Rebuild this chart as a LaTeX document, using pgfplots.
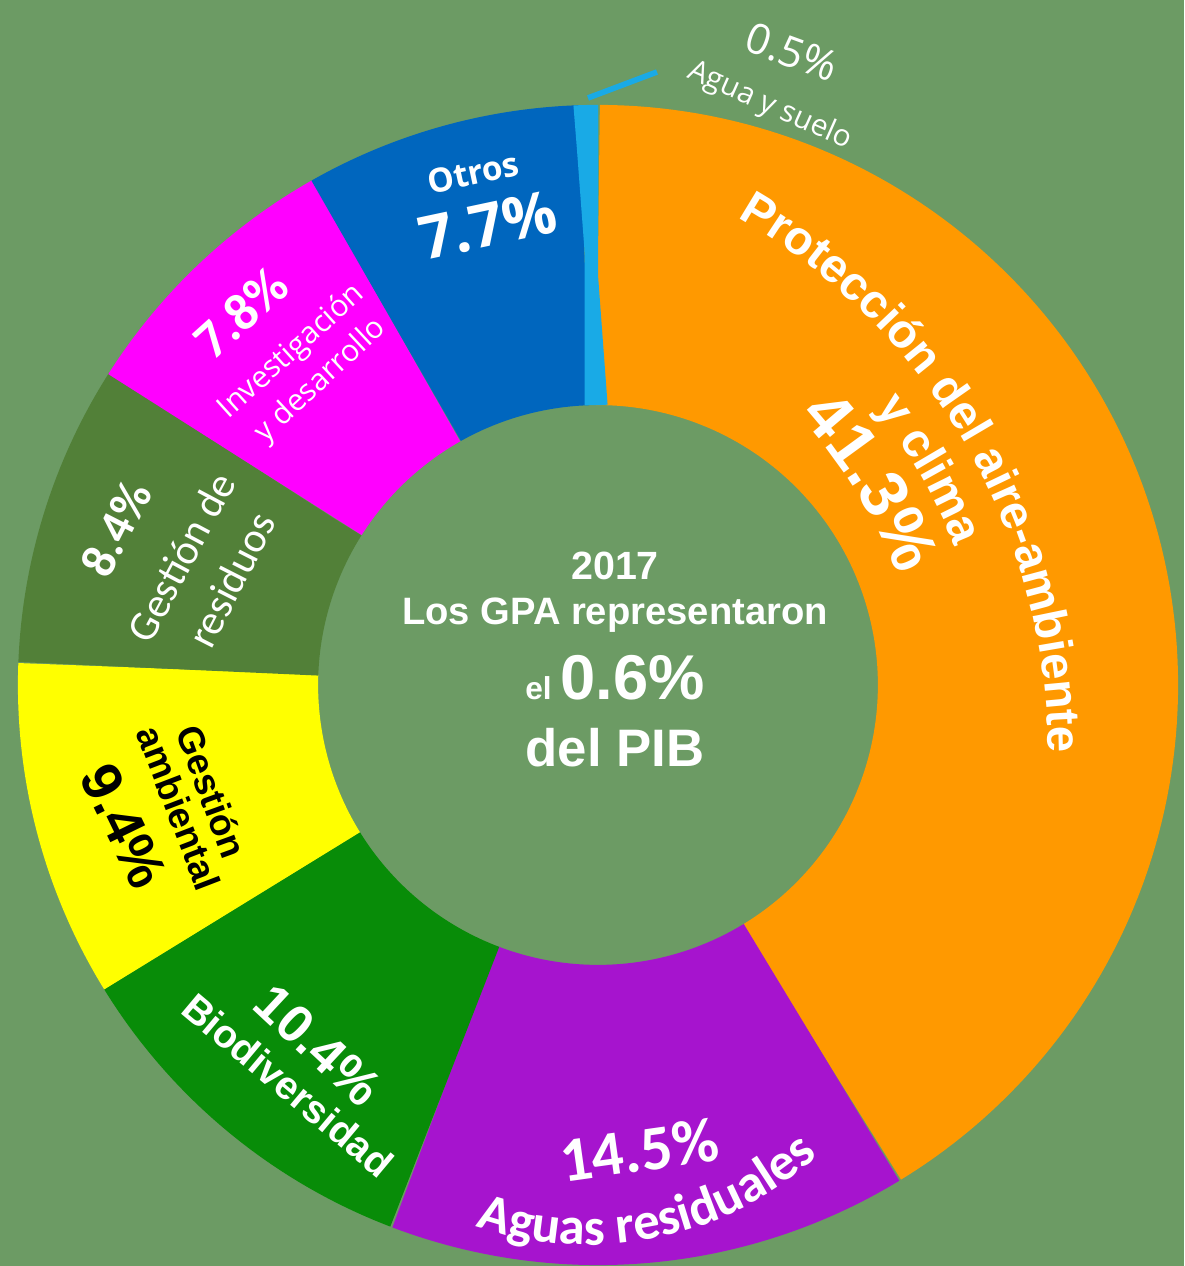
\documentclass[border=0pt]{standalone}
\usepackage{pgfplots}
\pgfplotsset{compat=1.18}
\usepackage{fontspec}
\setmainfont{Liberation Sans}
\newfontfamily\carlito{Carlito}
\newfontfamily\opensans{Open Sans}
\definecolor{bg}{RGB}{108,155,100}
\definecolor{cOrange}{RGB}{255,153,0}
\definecolor{cPurple}{RGB}{166,20,206}
\definecolor{cGreen}{RGB}{8,140,8}
\definecolor{cYellow}{RGB}{255,255,0}
\definecolor{cOlive}{RGB}{82,128,56}
\definecolor{cMagenta}{RGB}{255,0,255}
\definecolor{cBlue}{RGB}{0,102,190}
\definecolor{cLight}{RGB}{25,170,230}
\newcommand\fs[1]{\fontsize{#1}{#1}\selectfont}
\def\cum{0}
\newcommand\seg[2]{%
  \pgfmathsetmacro\segA{\cum*3.6}%
  \pgfmathsetmacro\segB{(\cum+#1)*3.6}%
  \edef\tmp{\noexpand\addplot[color=#2, line width=3cm, line cap=butt, line join=round, domain=\segA:\segB, samples=120] ({598+430*sin(x)},{581+430*cos(x)});}%
  \tmp
  \pgfmathsetmacro\cum{\cum+#1}%
}
% ---- text set letter by letter along an arc (1 axis unit = 0.01cm = 0.284528pt)
% positions are computed before the picture and stored in \ARall
\def\ARall{}
\makeatletter
\newcommand\ARchar[1]{%
  \setbox0=\hbox{\ARfont #1}%
  \pgfmathsetmacro\ARdang{(\the\wd0)/0.284528/\ARr*57.29578}%
  \pgfmathsetmacro\ARmid{\ARang+(\ARsgn)*\ARdang/2}%
  \pgfmathsetmacro\ARrot{\ARmid+(\ARsgn)*90}%
  \pgfmathsetmacro\ARx{\ARcx+\ARr*cos(\ARmid)}%
  \pgfmathsetmacro\ARy{\ARcy+\ARr*sin(\ARmid)}%
  \xdef\ARall{\unexpanded\expandafter{\ARall}\noexpand\node[anchor=base, rotate=\ARrot, inner sep=0pt, text=\ARcol, font=\unexpanded\expandafter{\ARfont}] at (axis cs:\ARx,\ARy) {\unexpanded{#1}};}%
  \pgfmathsetmacro\ARang{\ARang+(\ARsgn)*\ARdang}%
}
\newcommand\ARspace{%
  \setbox0=\hbox{\ARfont\space}%
  \pgfmathsetmacro\ARdang{(\the\wd0)/0.284528/\ARr*57.29578}%
  \pgfmathsetmacro\ARang{\ARang+(\ARsgn)*\ARdang}%
}
\newcommand\ARword[1]{\@tfor\ARc:=#1\do{\expandafter\ARchar\expandafter{\ARc}}}
\def\ARsplit#1 #2\ARend{\ARword{#1}\ifx\relax#2\relax\else\ARspace\ARsplit#2\ARend\fi}
% #1 cx, #2 cy, #3 baseline radius, #4 centre angle, #5 +1 ccw / -1 cw, #6 font, #7 colour, #8 text
\newcommand\arctext[8]{%
  \def\ARcx{#1}\def\ARcy{#2}\def\ARr{#3}\def\ARsgn{#5}\def\ARfont{#6}\def\ARcol{#7}%
  \setbox0=\hbox{#6#8}%
  \pgfmathsetmacro\ARtot{(\the\wd0)/0.284528/#3*57.29578}%
  \pgfmathsetmacro\ARang{#4-(#5)*\ARtot/2}%
  \ARsplit#8 \ARend}
\makeatother
\begin{document}%
\arctext{431}{513}{617}{30.15}{-1}{\bfseries\fs{13.5}}{white}{Protección del aire-ambiente}%
\arctext{431}{513}{563}{29.7}{-1}{\bfseries\fs{13.5}}{white}{y clima}%
\arctext{431}{513}{499}{31.6}{-1}{\bfseries\fs{19}}{white}{41.3\%}%
\arctext{588}{363}{342}{281.5}{1}{\carlito\bfseries\fs{15}}{white}{Aguas residuales}%
\begin{tikzpicture}
\begin{axis}[x=0.01cm, y=0.01cm, xmin=0, xmax=1184, ymin=0, ymax=1266,
  scale only axis, hide axis, clip=false]
\fill[bg] (axis cs:0,0) rectangle (axis cs:1184,1266);
% shares of GPA, % (clockwise from top)
\seg{41.3}{cOrange}
\seg{14.5}{cPurple}
\seg{10.4}{cGreen}
\seg{9.4}{cYellow}
\seg{8.4}{cOlive}
\seg{7.8}{cMagenta}
\seg{7.7}{cBlue}
\seg{0.5}{cLight}
% leader line for 0.5%
\addplot[color=cLight, line width=1.6pt] coordinates {(588,1168) (657,1194)};
% curved labels (orange, purple)
\ARall
% purple
\node[rotate=8, text=white, inner sep=0pt, font=\carlito\bfseries\fs{18}] at (axis cs:639,116) {14.5\%};
% green
\node[rotate=-43, text=white, inner sep=0pt, font=\bfseries\fs{15}] at (axis cs:318,221) {10.4\%};
\node[rotate=-40, text=white, inner sep=0pt, font=\bfseries\fs{11.2}] at (axis cs:288,181) {Biodiversidad};
% yellow
\node[rotate=-70, text=black, inner sep=0pt, font=\bfseries\fs{10.5}] at (axis cs:212,474) {Gestión};
\node[rotate=-69, text=black, inner sep=0pt, font=\bfseries\fs{10.5}] at (axis cs:179,458) {ambiental};
\node[rotate=-64, text=black, inner sep=0pt, font=\bfseries\fs{16}] at (axis cs:124,440) {9.4\%};
% olive
\node[rotate=63, text=white, inner sep=0pt, font=\carlito\bfseries\fs{14}] at (axis cs:116,737) {8.4\%};
\node[rotate=62, text=white, inner sep=0pt, font=\carlito\fs{12}] at (axis cs:181,709) {Gestión de};
\node[rotate=63, text=white, inner sep=0pt, font=\carlito\fs{12}] at (axis cs:231,686) {residuos};
% magenta
\node[rotate=42, text=white, inner sep=0pt, font=\carlito\bfseries\fs{15}] at (axis cs:241,953) {7.8\%};
\node[rotate=42, text=white, inner sep=0pt, font=\opensans\fs{8.6}] at (axis cs:292,914) {Investigación};
\node[rotate=43, text=white, inner sep=0pt, font=\opensans\fs{8.6}] at (axis cs:321,885) {y desarrollo};
% blue
\node[rotate=12, text=white, inner sep=0pt, font=\opensans\bfseries\fs{9.5}] at (axis cs:473,1093) {Otros};
\node[rotate=12, text=white, inner sep=0pt, font=\opensans\bfseries\fs{17}] at (axis cs:488,1041) {7.7\%};
% light blue
\node[rotate=-20, text=white, inner sep=0pt, font=\opensans\fs{12}] at (axis cs:792,1214) {0.5\%};
\node[rotate=-24, text=white, inner sep=0pt, font=\opensans\fs{8.5}] at (axis cs:770,1160) {Agua y suelo};
% centre
\node[anchor=base, text=white, inner sep=0pt, font=\bfseries\fs{11.2}] at (axis cs:615,686) {2017};
\node[anchor=base, text=white, inner sep=0pt, font=\bfseries\fs{10.85}] at (axis cs:615,641) {Los GPA representaron};
\node[anchor=base, text=white, inner sep=0pt, font=\bfseries] at (axis cs:615,566) {\fs{9}el \fs{18}0.6\%};
\node[anchor=base, text=white, inner sep=0pt, font=\bfseries\fs{15}] at (axis cs:615,499) {del PIB};
\end{axis}
\end{tikzpicture}%
\end{document}
